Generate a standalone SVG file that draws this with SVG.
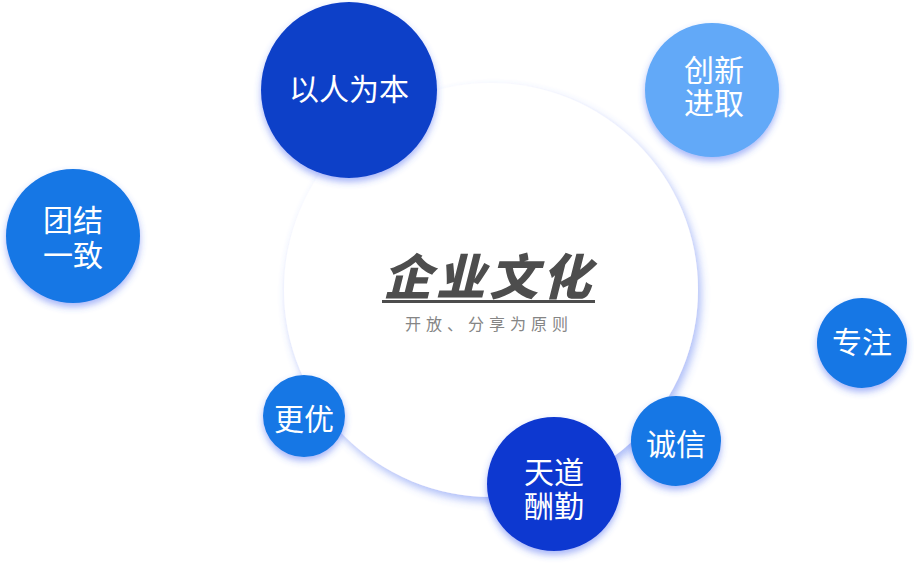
<svg xmlns="http://www.w3.org/2000/svg" width="914" height="563" viewBox="0 0 914 563">
  <defs>
    <filter id="bigShadow" x="-20%" y="-20%" width="140%" height="140%">
      <feDropShadow dx="3" dy="5" stdDeviation="4" flood-color="#4a6ef0" flood-opacity="0.45"/>
    </filter>
    <filter id="nodeShadow" x="-30%" y="-30%" width="160%" height="160%">
      <feDropShadow dx="0" dy="4" stdDeviation="3.5" flood-color="#3a5cf0" flood-opacity="0.45"/>
    </filter>
  </defs>
  <style>
    .node circle { filter: url(#nodeShadow); }
    .lbl { font-family: "Noto Sans CJK SC", "Noto Sans", sans-serif; fill: #ffffff; text-anchor: middle; font-size: 30px; }
    .title { font-family: "Noto Sans CJK SC", sans-serif; font-weight: 900; font-style: italic; font-size: 49px; fill: #4d4d4d; text-anchor: middle; letter-spacing: 4px; }
    .sub { font-family: "Noto Sans CJK SC", sans-serif; font-size: 16px; fill: #858585; text-anchor: middle; letter-spacing: 5px; }
  </style>
  <rect width="914" height="563" fill="#ffffff"/>
  <g id="connectors"></g>

  <g id="center">
    <circle cx="491" cy="290" r="207" fill="#ffffff" filter="url(#bigShadow)"/>
    <text class="title" x="489" y="295">企业文化</text>
    <rect x="382" y="300" width="213" height="3" fill="#4d4d4d"/>
    <text class="sub" x="489" y="330">开放、分享为原则</text>
  </g>

  <g id="node-yirenweiben" class="node">
    <circle cx="349" cy="90" r="88" fill="#0c40c8"/>
    <text class="lbl" x="349" y="100">以人为本</text>
  </g>

  <g id="node-chuangxin" class="node">
    <circle cx="712" cy="90" r="67" fill="#62a9f8"/>
    <text class="lbl" x="714" y="81"><tspan x="714" y="81">创新</tspan><tspan x="714" y="114">进取</tspan></text>
  </g>

  <g id="node-tuanjie" class="node">
    <circle cx="73" cy="236" r="67" fill="#1677e5"/>
    <text class="lbl" x="73" y="231"><tspan x="73" y="231">团结</tspan><tspan x="73" y="266">一致</tspan></text>
  </g>

  <g id="node-zhuanzhu" class="node">
    <circle cx="862" cy="343" r="45" fill="#1677e5"/>
    <text class="lbl" x="862" y="353">专注</text>
  </g>

  <g id="node-gengyou" class="node">
    <circle cx="304" cy="416" r="41" fill="#1677e5"/>
    <text class="lbl" x="304" y="430">更优</text>
  </g>

  <g id="node-tiandao" class="node">
    <circle cx="554" cy="484" r="67" fill="#1139d0"/>
    <text class="lbl" x="554" y="483"><tspan x="554" y="483">天道</tspan><tspan x="554" y="517">酬勤</tspan></text>
  </g>

  <g id="node-chengxin" class="node">
    <circle cx="676" cy="441" r="45" fill="#1677e5"/>
    <text class="lbl" x="676" y="455">诚信</text>
  </g>
</svg>
